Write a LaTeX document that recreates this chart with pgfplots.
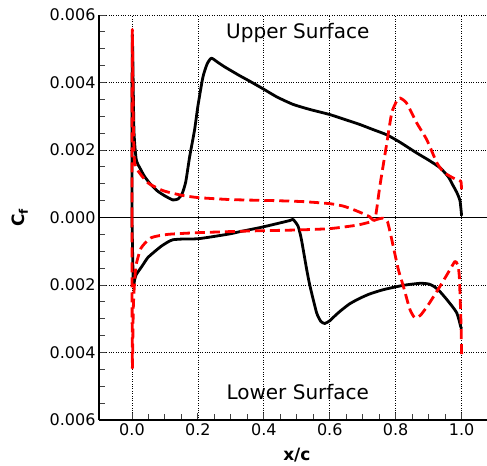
\documentclass[border=0pt]{standalone}
\usepackage{pgfplots}
\pgfplotsset{compat=1.18}
\usepackage{fontspec}
\setmainfont{DejaVu Sans}
\begin{document}
\begin{tikzpicture}
\begin{axis}[
  scale only axis, width=388pt, height=405pt,
  xmin=-0.1, xmax=1.077, ymin=-6, ymax=6,
  axis lines*=left,
  axis line style={line width=2pt, black},
  tick align=inside,
  xtick={0,0.2,0.4,0.6,0.8,1.0},
  xticklabels={0.0,0.2,0.4,0.6,0.8,1.0},
  ytick={-6,-4,-2,0,2,4,6},
  yticklabels={0.006,0.004,0.002,0.000,0.002,0.004,0.006},
  minor x tick num=3, minor y tick num=3,
  major tick length=7pt, minor tick length=6pt,
  tick style={black!75, line width=0.9pt},
  xtick pos=bottom, ytick pos=left,
  grid=major,
  major grid style={dotted, black, line width=0.7pt},
  tick label style={font=\fontsize{16}{19}\selectfont},
  xlabel={\textbf{x/c}},
  ylabel={\textbf{C\textsubscript{f}}},
  xlabel style={font=\fontsize{17}{20}\selectfont, at={(rel axis cs:0.51,0)}, anchor=center, yshift=-35pt},
  ylabel style={font=\fontsize{17}{20}\selectfont, at={(rel axis cs:0,0.5)}, anchor=center, yshift=79pt},
  clip=false,
]
\addplot[black, line width=0.9pt] coordinates {(-0.1,0) (1.077,0)};
% black upper
\addplot[black, line width=2.8pt, line join=round, smooth, tension=0.35] coordinates {
(0,0) (0.001,5.4) (0.006,2.6) (0.013,1.72) (0.025,1.45) (0.038,1.22) (0.055,1.0) (0.078,0.78)
(0.1,0.64) (0.124,0.52) (0.14,0.55) (0.152,0.7) (0.163,1.05) (0.175,1.8) (0.19,2.6) (0.2,3.3)
(0.215,4.15) (0.228,4.55) (0.241,4.72) (0.26,4.6) (0.28,4.47) (0.306,4.32) (0.327,4.2) (0.357,4.04)
(0.4,3.8) (0.44,3.57) (0.489,3.35) (0.54,3.2) (0.6,3.05) (0.65,2.89) (0.69,2.76) (0.73,2.61)
(0.773,2.45) (0.813,2.23) (0.864,1.91) (0.9,1.7) (0.935,1.47) (0.96,1.2) (0.975,0.93) (0.985,0.75)
(0.995,0.5) (1.0,0.05)};
% black lower
\addplot[black, line width=2.8pt, line join=round, smooth, tension=0.35] coordinates {
(0,0) (0.004,-1.98) (0.008,-1.85) (0.013,-1.69) (0.03,-1.45) (0.048,-1.19) (0.07,-1.0) (0.089,-0.85)
(0.11,-0.72) (0.124,-0.66) (0.15,-0.64) (0.2,-0.63) (0.25,-0.56) (0.3,-0.48) (0.327,-0.42) (0.388,-0.3)
(0.428,-0.21) (0.479,-0.09) (0.489,-0.06) (0.504,-0.26) (0.514,-0.65) (0.53,-1.54) (0.54,-2.03)
(0.56,-2.82) (0.573,-3.08) (0.585,-3.14) (0.6,-3.06) (0.615,-2.92) (0.631,-2.78) (0.66,-2.56)
(0.69,-2.4) (0.72,-2.27) (0.762,-2.14) (0.823,-2.01) (0.874,-1.95) (0.9,-1.97) (0.914,-2.03)
(0.93,-2.15) (0.955,-2.43) (0.985,-2.82) (0.998,-3.26) (1.0,-3.3)};
% red upper
\addplot[red, line width=2.8pt, dash pattern=on 10pt off 5pt, line join=round, smooth, tension=0.35] coordinates {
(0,0) (0.001,5.55) (0.004,3.0) (0.008,1.63) (0.023,1.32) (0.048,1.03) (0.075,0.88) (0.099,0.78)
(0.15,0.66) (0.2,0.59) (0.3,0.53) (0.43,0.5) (0.52,0.47) (0.6,0.41) (0.64,0.34) (0.67,0.24)
(0.7,0.12) (0.72,0.03) (0.737,-0.06) (0.752,0.93) (0.773,2.2) (0.788,3.1) (0.803,3.45) (0.813,3.54)
(0.833,3.39) (0.864,2.8) (0.894,2.31) (0.925,1.62) (0.945,1.35) (0.965,1.22) (0.985,1.12) (0.998,1.07)
(1.0,0.73)};
% red lower
\addplot[red, line width=2.8pt, dash pattern=on 10pt off 5pt, line join=round, smooth, tension=0.35] coordinates {
(0,0) (0.001,-4.45) (0.004,-2.7) (0.008,-1.9) (0.013,-1.39) (0.028,-0.9) (0.058,-0.6) (0.109,-0.5)
(0.2,-0.45) (0.357,-0.4) (0.5,-0.37) (0.6,-0.33) (0.681,-0.23) (0.72,-0.14) (0.742,-0.06) (0.762,-0.02)
(0.775,-0.12) (0.788,-0.65) (0.808,-1.54) (0.823,-2.03) (0.843,-2.72) (0.858,-2.97) (0.875,-2.9)
(0.9,-2.57) (0.935,-2.03) (0.965,-1.54) (0.98,-1.3) (0.988,-1.4) (0.993,-1.74) (0.998,-3.1) (1.0,-4.05)};
\node[font=\fontsize{20}{24}\selectfont] at (axis cs:0.503,5.47) {Upper Surface};
\node[font=\fontsize{20}{24}\selectfont] at (axis cs:0.503,-5.18) {Lower Surface};
\end{axis}
\pgfresetboundingbox
\useasboundingbox ([shift={(-99pt,-46pt)}]current axis.south west) rectangle ([shift={(0pt,15pt)}]current axis.north east);
\end{tikzpicture}
\end{document}
